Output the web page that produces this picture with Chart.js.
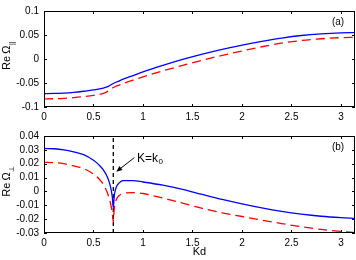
<!DOCTYPE html>
<html>
<head>
<meta charset="utf-8">
<script src="https://cdn.jsdelivr.net/npm/chart.js@4.4.0/dist/chart.umd.min.js"></script>
<style>
  html, body { margin: 0; padding: 0; background: #fff; }
  #wrap { position: relative; width: 356px; height: 260px; overflow: hidden; }
  canvas { position: absolute; left: 0; }
</style>
</head>
<body>
<div id="wrap">
  <canvas id="chartA" width="356" height="125" style="top:0px"></canvas>
  <canvas id="chartB" width="356" height="135" style="top:125px"></canvas>
</div>
<script>
// panel (a): Re Omega parallel
const kdA = [0, 0.1, 0.2, 0.3, 0.4, 0.5, 0.6, 0.65, 0.7, 0.75, 0.8, 0.9, 1.0, 1.2, 1.4, 1.6, 1.8, 2.0, 2.2, 2.4, 2.6, 2.8, 3.0, 3.1416];
const blueA = [-0.072, -0.0718, -0.071, -0.0695, -0.0672, -0.0645, -0.0605, -0.057, -0.051, -0.0465, -0.042, -0.0345, -0.027, -0.0135, -0.001, 0.0102, 0.0202, 0.0287, 0.0365, 0.0435, 0.049, 0.0525, 0.0545, 0.055];
const redA = [-0.083, -0.0828, -0.082, -0.0805, -0.0785, -0.0758, -0.0715, -0.0668, -0.0595, -0.055, -0.051, -0.0438, -0.037, -0.0248, -0.0132, -0.0025, 0.0075, 0.0167, 0.0255, 0.033, 0.0385, 0.0422, 0.0445, 0.045];

// panel (b): Re Omega perpendicular
const kdB = [0, 0.1, 0.2, 0.3, 0.4, 0.5, 0.55, 0.6, 0.64, 0.67, 0.69, 0.7, 0.71, 0.73, 0.76, 0.8, 0.9, 1.0, 1.2, 1.4, 1.6, 1.8, 2.0, 2.2, 2.4, 2.6, 2.8, 3.0, 3.1416];
const blueB = [0.031, 0.0308, 0.030, 0.0285, 0.0265, 0.0225, 0.0195, 0.0155, 0.0105, 0.004, -0.004, -0.012, -0.003, 0.003, 0.0062, 0.0078, 0.0078, 0.0068, 0.0045, 0.0015, -0.0022, -0.0058, -0.009, -0.0119, -0.0144, -0.0164, -0.0179, -0.0189, -0.0194];
const redB = [0.021, 0.0208, 0.020, 0.0185, 0.0165, 0.0125, 0.0095, 0.005, -0.001, -0.008, -0.016, -0.022, -0.012, -0.006, -0.003, -0.0015, -0.0008, -0.0015, -0.0048, -0.0085, -0.0122, -0.0154, -0.0181, -0.0207, -0.0232, -0.0255, -0.0274, -0.0289, -0.0297];

const k0 = 0.7;
const xTicks = [0, 0.5, 1, 1.5, 2, 2.5, 3];
const yTicksA = [-0.1, -0.05, 0, 0.05, 0.1];
const yTicksB = [-0.03, -0.02, -0.01, 0, 0.01, 0.02, 0.03, 0.04];

const FONT = '"Liberation Sans", Arial, sans-serif';
const pts = (xs, ys) => xs.map((x, i) => ({ x: x, y: ys[i] }));

// box + inward tick marks on all four sides, panel tag and y title
const frame = {
  id: 'frame',
  afterDatasetsDraw(chart, args, opts) {
    const { ctx, chartArea: { left, top, right, bottom }, scales: { x, y } } = chart;
    ctx.save();
    ctx.strokeStyle = '#000';
    ctx.lineWidth = 1;
    ctx.strokeRect(left + 0.5, top + 0.5, right - left - 1, bottom - top - 1);
    ctx.beginPath();
    x.ticks.forEach(t => {
      const p = Math.round(x.getPixelForValue(t.value)) + 0.5;
      ctx.moveTo(p, bottom); ctx.lineTo(p, bottom - 3);
      ctx.moveTo(p, top); ctx.lineTo(p, top + 3);
    });
    y.ticks.forEach(t => {
      const p = Math.round(y.getPixelForValue(t.value)) + 0.5;
      ctx.moveTo(left, p); ctx.lineTo(left + 3, p);
      ctx.moveTo(right, p); ctx.lineTo(right - 3, p);
    });
    ctx.stroke();

    ctx.fillStyle = '#000';
    ctx.font = '10px ' + FONT;
    ctx.textAlign = 'center';
    ctx.textBaseline = 'middle';
    ctx.fillText(opts.tag, right - 17, top + 11);

    // rotated y title with subscript
    ctx.translate(7, (top + bottom) / 2 - 3);
    ctx.rotate(-Math.PI / 2);
    ctx.textAlign = 'left';
    ctx.font = '11px ' + FONT;
    const w1 = ctx.measureText(opts.main).width;
    ctx.font = '7px ' + FONT;
    const w2 = ctx.measureText(opts.sub).width;
    const x0 = -(w1 + w2) / 2;
    ctx.font = '11px ' + FONT;
    ctx.fillText(opts.main, x0, 0);
    ctx.font = '7px ' + FONT;
    ctx.fillText(opts.sub, x0 + w1 + 0.5, 5);
    ctx.restore();
  },
};

// arrow and K=k0 label in panel (b)
const arrowNote = {
  id: 'arrowNote',
  afterDatasetsDraw(chart, args, opts) {
    if (!opts.show) return;
    const { ctx, scales: { x, y } } = chart;
    const tx = x.getPixelForValue(opts.tail[0]), ty = y.getPixelForValue(opts.tail[1]);
    const hx = x.getPixelForValue(opts.head[0]), hy = y.getPixelForValue(opts.head[1]);
    const ang = Math.atan2(hy - ty, hx - tx);
    ctx.save();
    ctx.strokeStyle = '#000';
    ctx.fillStyle = '#000';
    ctx.lineWidth = 1;
    ctx.beginPath();
    ctx.moveTo(tx, ty);
    ctx.lineTo(hx - 5 * Math.cos(ang), hy - 5 * Math.sin(ang));
    ctx.stroke();
    ctx.beginPath();
    ctx.moveTo(hx, hy);
    ctx.lineTo(hx - 6 * Math.cos(ang) + 2.5 * Math.sin(ang), hy - 6 * Math.sin(ang) - 2.5 * Math.cos(ang));
    ctx.lineTo(hx - 6 * Math.cos(ang) - 2.5 * Math.sin(ang), hy - 6 * Math.sin(ang) + 2.5 * Math.cos(ang));
    ctx.closePath();
    ctx.fill();

    const lx = x.getPixelForValue(opts.label[0]), ly = y.getPixelForValue(opts.label[1]);
    ctx.textAlign = 'left';
    ctx.textBaseline = 'alphabetic';
    ctx.font = '12px ' + FONT;
    ctx.fillText('K=k', lx, ly);
    const w = ctx.measureText('K=k').width;
    ctx.font = '8px ' + FONT;
    ctx.fillText('0', lx + w + 0.5, ly + 2.5);
    ctx.restore();
  },
};

function makeChart(id, cfg) {
  const xAxis = {
    type: 'linear', min: 0, max: Math.PI,
    grid: { display: false, drawTicks: false },
    border: { display: false },
    afterBuildTicks: s => { s.ticks = xTicks.map(v => ({ value: v })); },
    afterFit: s => { s.height = cfg.xHeight; },
    ticks: { padding: 4, color: '#000', font: { size: 10, family: FONT }, callback: v => String(v), maxRotation: 0, autoSkip: false },
    title: { display: cfg.xTitle, text: 'Kd', color: '#000', font: { size: 11, family: FONT, lineHeight: 1.2 }, padding: { top: 0, bottom: 1 } },
  };
  const yAxis = {
    type: 'linear', min: cfg.yTicks[0], max: cfg.yTicks[cfg.yTicks.length - 1],
    grid: { display: false, drawTicks: false },
    border: { display: false },
    afterBuildTicks: s => { s.ticks = cfg.yTicks.map(v => ({ value: v })); },
    afterFit: s => { s.width = 44; },
    ticks: { padding: 5, color: '#000', font: { size: 10, family: FONT }, callback: v => String(v), autoSkip: false },
  };
  const line = (data, color, dash) => ({
    data: data, borderColor: color, backgroundColor: color, borderWidth: 1.3,
    borderDash: dash, pointRadius: 0, cubicInterpolationMode: 'monotone', fill: false,
  });
  const datasets = [
    line(pts(cfg.kd, cfg.blue), '#0000ff', []),
    line(pts(cfg.kd, cfg.red), '#ff0000', [9, 5]),
  ];
  if (cfg.marker) {
    datasets.push({
      data: [{ x: k0, y: cfg.yTicks[0] }, { x: k0, y: cfg.yTicks[cfg.yTicks.length - 1] }],
      borderColor: '#000', borderWidth: 1.3, borderDash: [4, 3], pointRadius: 0, tension: 0,
    });
  }
  return new Chart(document.getElementById(id), {
    type: 'line',
    data: { datasets: datasets },
    options: {
      responsive: false,
      animation: false,
      layout: { padding: { top: 5, right: 1, left: 0, bottom: 0 } },
      scales: { x: xAxis, y: yAxis },
      plugins: {
        legend: { display: false },
        tooltip: { enabled: false },
        frame: { tag: cfg.tag, main: 'Re\u2009\u03A9', sub: cfg.sub },
        arrowNote: { show: cfg.marker, tail: [0.913, 0.0244], head: [0.73, 0.0142], label: [0.94, 0.0214] },
      },
    },
    plugins: [frame, arrowNote],
  });
}

makeChart('chartA', { kd: kdA, blue: blueA, red: redA, yTicks: yTicksA, xHeight: 18, xTitle: false, tag: '(a)', sub: '||', marker: false });
makeChart('chartB', { kd: kdB, blue: blueB, red: redB, yTicks: yTicksB, xHeight: 27, xTitle: true, tag: '(b)', sub: '\u22A5', marker: true });
</script>
</body>
</html>
